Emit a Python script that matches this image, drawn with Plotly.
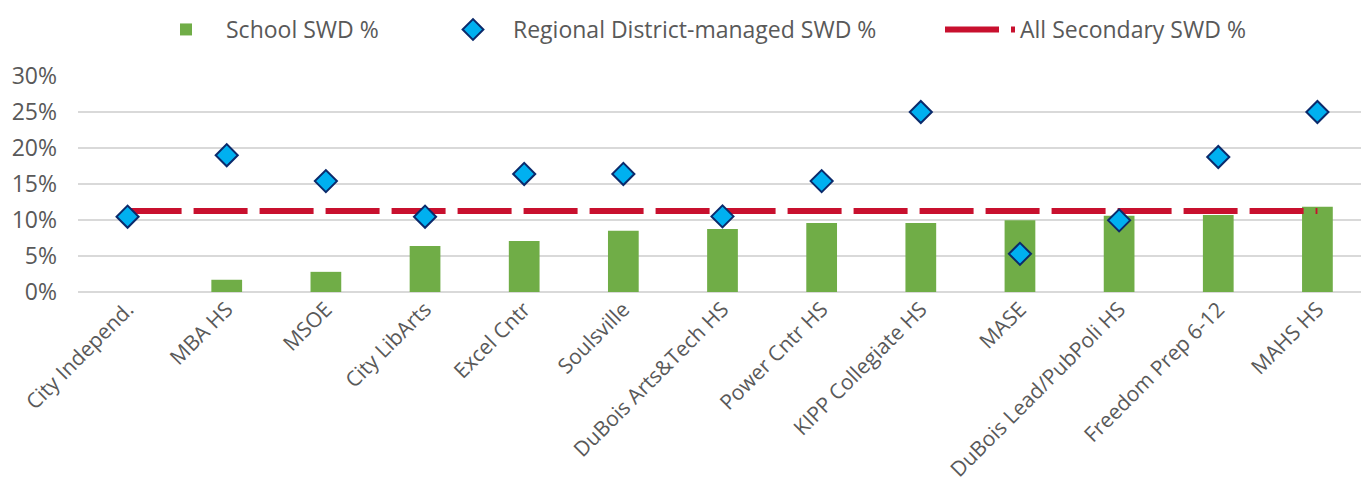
import plotly.graph_objects as go

schools = ["City Independ.", "MBA HS", "MSOE", "City LibArts", "Excel Cntr", "Soulsville",
           "DuBois Arts&Tech HS", "Power Cntr HS", "KIPP Collegiate HS", "MASE",
           "DuBois Lead/PubPoli HS", "Freedom Prep 6-12", "MAHS HS"]
school_swd = [0.0, 0.017, 0.028, 0.064, 0.071, 0.085, 0.0875, 0.096, 0.096, 0.0995, 0.106, 0.107, 0.1185]
regional_swd = [0.1046, 0.19, 0.154, 0.1046, 0.164, 0.164, 0.105, 0.154, 0.25, 0.053, 0.0995, 0.1875, 0.25]
all_secondary = [0.1125] * len(schools)
y_ticks = [0, 0.05, 0.10, 0.15, 0.20, 0.25, 0.30]

W, H = 1361, 481  # page has an 8px body margin

fig = go.Figure()
fig.add_trace(go.Bar(x=schools, y=school_swd, name="School SWD %", legend="legend",
                     marker=dict(color="#70AD47", line=dict(width=0)), width=0.31))
fig.add_trace(go.Scatter(x=schools, y=all_secondary, name="All Secondary SWD %", mode="lines",
                         legend="legend3",
                         line=dict(color="#C8102E", width=6, dash="54px,12px")))
fig.add_trace(go.Scatter(x=schools, y=regional_swd, name="Regional District-managed SWD %",
                         mode="markers", legend="legend2",
                         marker=dict(symbol="diamond", size=17, color="#00B0F0",
                                     line=dict(color="#0B2A6B", width=2))))

font_family = "Open Sans, DejaVu Sans, sans-serif"
leg_common = dict(orientation="h", xref="container", yref="container", yanchor="top",
                  y=1.0, font=dict(size=23, color="#595959"), bgcolor="rgba(0,0,0,0)",
                  itemwidth=70)
fig.update_layout(
    width=W, height=H,
    margin=dict(l=70, r=2, t=68, b=197),
    plot_bgcolor="white", paper_bgcolor="white",
    font=dict(family=font_family, color="#595959"),
    showlegend=True,
    legend=dict(x=138 / W, **leg_common),
    legend2=dict(x=425 / W, **leg_common),
    legend3=dict(x=932 / W, **leg_common),
    xaxis=dict(tickangle=-45, tickfont=dict(size=21, color="#595959"), showgrid=False,
               showline=False, ticks="", range=[-0.5, len(schools) - 0.5]),
    yaxis=dict(range=[0, 0.30], tickvals=y_ticks, tickformat=".0%", ticklabelstandoff=20,
               tickfont=dict(size=23, color="#595959"), gridcolor="#D9D9D9", gridwidth=2,
               zeroline=True, zerolinecolor="#D9D9D9", zerolinewidth=2, ticks="", showline=False),
)

fig.write_html("out.html")
